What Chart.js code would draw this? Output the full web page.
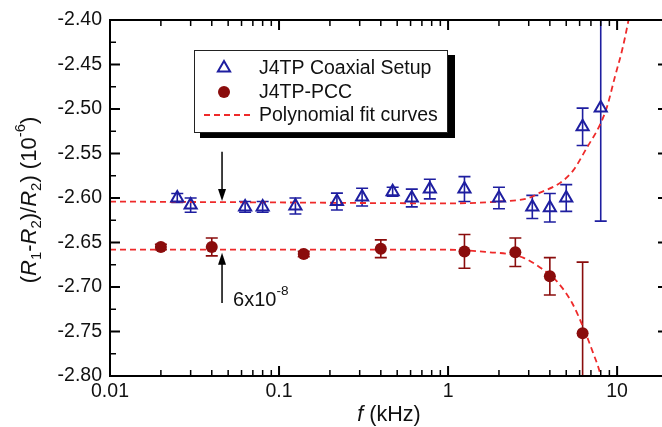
<!DOCTYPE html>
<html>
<head>
<meta charset="utf-8">
<script src="https://cdn.jsdelivr.net/npm/chart.js@4.4.0/dist/chart.umd.min.js"></script>
<style>
html, body { margin: 0; padding: 0; background: #fff; overflow: hidden; }
#wrap { width: 680px; height: 427px; }
</style>
</head>
<body>
<div id="wrap"><canvas id="grafico"></canvas></div>
<script>
// dati (frequenza in kHz, valori in 10^-6)
let coaxF   = [0.025, 0.03, 0.063, 0.08, 0.125, 0.22, 0.31, 0.47, 0.61, 0.78, 1.25, 2.0, 3.15, 4.0, 5.0, 6.25, 8.0];
let coaxY   = [-2.600, -2.608, -2.610, -2.610, -2.609, -2.604, -2.599, -2.593, -2.600, -2.590, -2.590, -2.600, -2.610, -2.611, -2.600, -2.520, -2.499];
let coaxErr = [0.005, 0.008, 0.006, 0.006, 0.009, 0.0095, 0.010, 0.005, 0.010, 0.011, 0.014, 0.012, 0.013, 0.016, 0.015, 0.021, 0.127];

let pccF   = [0.02, 0.04, 0.14, 0.40, 1.25, 2.5, 4.0, 6.25];
let pccY   = [-2.655, -2.655, -2.663, -2.657, -2.660, -2.661, -2.688, -2.752];
let pccErr = [0.003, 0.010, 0.003, 0.010, 0.019, 0.016, 0.021, 0.080];

let fitCoaxF = [0.01, 0.1, 1, 2, 3, 3.5, 4.6, 5.5, 6.6, 7.9, 8.7, 9.7, 10.7, 11.6, 12.2];
let fitCoaxY = [-2.604, -2.605, -2.606, -2.604, -2.600, -2.594, -2.583, -2.569, -2.544, -2.518, -2.498, -2.464, -2.434, -2.403, -2.38];

let fitPccF = [0.01, 0.1, 0.9, 1.3, 1.77, 2.3, 2.78, 3.5, 4.42, 5.42, 6.29, 7.21, 7.93, 8.2];
let fitPccY = [-2.658, -2.658, -2.658, -2.659, -2.661, -2.663, -2.667, -2.678, -2.694, -2.718, -2.745, -2.774, -2.797, -2.81];

let xTickLabels = [0.01, 0.1, 1, 10];
let yTickLabels = [-2.80, -2.75, -2.70, -2.65, -2.60, -2.55, -2.50, -2.45, -2.40];

let legendLabels = ['J4TP Coaxial Setup', 'J4TP-PCC', 'Polynomial fit curves'];

const FONT = '"Liberation Sans", Arial, sans-serif';
const BLU = '#1e1ea0';
const ROSSO = '#8a0c0c';
const FIT = '#ee2a2a';

function punti(xs, ys) {
    let out = [];
    for (var i = 0; i < xs.length; i++) out.push({x: xs[i], y: ys[i]});
    return out;
}

// disegna testo a segmenti (corsivo, pedici, apici)
function testoRicco(ctx, parti, x, y, size, sinistra) {
    let w = 0;
    parti.forEach(p => {
        let s = p.sub || p.sup ? size * 0.68 : size;
        ctx.font = (p.it ? 'italic ' : '') + s + 'px ' + FONT;
        p.w = ctx.measureText(p.t).width;
        p.s = s;
        w += p.w;
    });
    let cx = sinistra ? x : x - w / 2;
    ctx.textBaseline = 'middle';
    ctx.textAlign = 'left';
    parti.forEach(p => {
        ctx.font = (p.it ? 'italic ' : '') + p.s + 'px ' + FONT;
        let dy = p.sub ? size * 0.3 : (p.sup ? -size * 0.42 : 0);
        ctx.fillText(p.t, cx, y + dy);
        cx += p.w;
    });
}

function freccia(ctx, x, y0, y1) {
    let dir = y1 > y0 ? 1 : -1;
    ctx.beginPath();
    ctx.moveTo(x, y0);
    ctx.lineTo(x, y1 - dir * 8);
    ctx.lineWidth = 1.5;
    ctx.stroke();
    ctx.beginPath();
    ctx.moveTo(x, y1);
    ctx.lineTo(x - 4, y1 - dir * 12);
    ctx.lineTo(x + 4, y1 - dir * 12);
    ctx.closePath();
    ctx.fill();
}

const decorazioni = {
    id: 'decorazioni',
    beforeDatasetsDraw(chart) {
        const ctx = chart.ctx, xs = chart.scales.x, ys = chart.scales.y, a = chart.chartArea;
        ctx.save();
        ctx.beginPath();
        ctx.rect(a.left, a.top, a.right - a.left, a.bottom - a.top);
        ctx.clip();
        const barre = [[coaxF, coaxY, coaxErr, BLU], [pccF, pccY, pccErr, ROSSO]];
        barre.forEach(b => {
            ctx.strokeStyle = b[3];
            ctx.lineWidth = 1.6;
            for (var i = 0; i < b[0].length; i++) {
                let px = xs.getPixelForValue(b[0][i]);
                let y1 = ys.getPixelForValue(b[1][i] + b[2][i]);
                let y2 = ys.getPixelForValue(b[1][i] - b[2][i]);
                ctx.beginPath();
                ctx.moveTo(px, y1); ctx.lineTo(px, y2);
                ctx.moveTo(px - 6, y1); ctx.lineTo(px + 6, y1);
                ctx.moveTo(px - 6, y2); ctx.lineTo(px + 6, y2);
                ctx.stroke();
            }
        });
        ctx.restore();
    },
    afterDraw(chart) {
        const ctx = chart.ctx, xs = chart.scales.x, ys = chart.scales.y, a = chart.chartArea;
        ctx.save();
        // cornice
        ctx.strokeStyle = '#000';
        ctx.lineWidth = 2;
        ctx.strokeRect(a.left, a.top, a.right - a.left, a.bottom - a.top);
        // tacche y
        for (var i = 0; i < yTickLabels.length; i++) {
            let py = ys.getPixelForValue(yTickLabels[i]);
            ctx.lineWidth = 2;
            ctx.beginPath();
            ctx.moveTo(a.left, py); ctx.lineTo(a.left + 10, py);
            ctx.moveTo(a.right, py); ctx.lineTo(a.right - 10, py);
            ctx.stroke();
            if (i < yTickLabels.length - 1) {
                let pm = ys.getPixelForValue((yTickLabels[i] + yTickLabels[i + 1]) / 2);
                ctx.lineWidth = 1.5;
                ctx.beginPath();
                ctx.moveTo(a.left, pm); ctx.lineTo(a.left + 6, pm);
                ctx.moveTo(a.right, pm); ctx.lineTo(a.right - 6, pm);
                ctx.stroke();
            }
        }
        // tacche x
        xTickLabels.forEach(d => {
            let px = xs.getPixelForValue(d);
            ctx.lineWidth = 2;
            ctx.beginPath();
            ctx.moveTo(px, a.bottom); ctx.lineTo(px, a.bottom - 10);
            ctx.moveTo(px, a.top); ctx.lineTo(px, a.top + 10);
            ctx.stroke();
            ctx.lineWidth = 1.5;
            for (var k = 2; k <= 9; k++) {
                if (d * k > xs.max) break;
                let pm = xs.getPixelForValue(d * k);
                ctx.beginPath();
                ctx.moveTo(pm, a.bottom); ctx.lineTo(pm, a.bottom - 6);
                ctx.moveTo(pm, a.top); ctx.lineTo(pm, a.top + 6);
                ctx.stroke();
            }
        });

        // legenda
        ctx.fillStyle = '#000';
        ctx.fillRect(200, 55, 255, 83);
        ctx.fillStyle = '#fff';
        ctx.fillRect(194, 50, 254, 83);
        ctx.strokeStyle = '#222';
        ctx.lineWidth = 1;
        ctx.strokeRect(194.5, 50.5, 253, 82);
        ctx.strokeStyle = BLU;
        ctx.lineWidth = 2;
        ctx.beginPath();
        ctx.moveTo(224, 61); ctx.lineTo(230.1, 71.5); ctx.lineTo(217.9, 71.5); ctx.closePath();
        ctx.stroke();
        ctx.fillStyle = ROSSO;
        ctx.beginPath();
        ctx.arc(224, 92, 6, 0, Math.PI * 2);
        ctx.fill();
        ctx.strokeStyle = FIT;
        ctx.lineWidth = 1.8;
        ctx.setLineDash([6, 4]);
        ctx.beginPath();
        ctx.moveTo(204, 115); ctx.lineTo(250, 115);
        ctx.stroke();
        ctx.setLineDash([]);
        ctx.fillStyle = '#111';
        ctx.font = '19.5px ' + FONT;
        ctx.textAlign = 'left';
        ctx.textBaseline = 'middle';
        ctx.fillText(legendLabels[0], 259, 69);
        ctx.fillText(legendLabels[1], 259, 93);
        ctx.fillText(legendLabels[2], 259, 116);

        // frecce e annotazione
        ctx.strokeStyle = '#000';
        ctx.fillStyle = '#000';
        let fx = xs.getPixelForValue(0.046);
        freccia(ctx, fx, ys.getPixelForValue(-2.548), ys.getPixelForValue(-2.6035));
        freccia(ctx, fx, ys.getPixelForValue(-2.718), ys.getPixelForValue(-2.6615));
        ctx.fillStyle = '#111';
        testoRicco(ctx, [{t: '6x10'}, {t: '-8', sup: true}], fx + 11, 300, 20, true);

        // titoli assi
        ctx.fillStyle = '#111';
        testoRicco(ctx, [{t: 'f', it: true}, {t: ' (kHz)'}], (a.left + a.right) / 2, 415, 21.5);
        ctx.translate(30, 200);
        ctx.rotate(-Math.PI / 2);
        testoRicco(ctx, [
            {t: '('}, {t: 'R', it: true}, {t: '1', sub: true}, {t: '-'},
            {t: 'R', it: true}, {t: '2', sub: true}, {t: ')/'},
            {t: 'R', it: true}, {t: '2', sub: true}, {t: ') (10'},
            {t: '-6', sup: true}, {t: ')'}
        ], 0, 0, 22);
        ctx.restore();
    }
};

var ctx = document.getElementById('grafico');
var grafico = new Chart(ctx, {
    type: 'scatter',
    data: {
        datasets: [{
            label: legendLabels[0],
            data: punti(coaxF, coaxY),
            pointStyle: 'triangle',
            radius: 7,
            borderColor: BLU,
            backgroundColor: 'rgba(255,255,255,0)',
            borderWidth: 2
        }, {
            label: legendLabels[1],
            data: punti(pccF, pccY),
            pointStyle: 'circle',
            radius: 6,
            borderColor: ROSSO,
            backgroundColor: ROSSO,
            borderWidth: 0
        }, {
            label: legendLabels[2],
            data: punti(fitCoaxF, fitCoaxY),
            showLine: true,
            pointRadius: 0,
            borderColor: FIT,
            borderWidth: 1.8,
            borderDash: [6, 4],
            cubicInterpolationMode: 'monotone'
        }, {
            label: 'fit PCC',
            data: punti(fitPccF, fitPccY),
            showLine: true,
            pointRadius: 0,
            borderColor: FIT,
            borderWidth: 1.8,
            borderDash: [6, 4],
            cubicInterpolationMode: 'monotone'
        }]
    },
    options: {
        responsive: true,
        maintainAspectRatio: false,
        animation: false,
        layout: { padding: { top: 20, right: 12, left: 0, bottom: 0 } },
        plugins: { legend: { display: false }, tooltip: { enabled: false } },
        scales: {
            x: {
                type: 'logarithmic',
                min: 0.01,
                max: 20,
                grid: { display: false, drawTicks: false },
                border: { display: false },
                afterBuildTicks: s => { s.ticks = xTickLabels.map(v => ({value: v})); },
                afterFit: s => { s.height = 51; },
                ticks: {
                    font: { family: FONT, size: 19.5 },
                    color: '#111',
                    padding: 4,
                    maxRotation: 0,
                    autoSkip: false,
                    callback: v => String(v)
                }
            },
            y: {
                min: -2.8,
                max: -2.4,
                grid: { display: false, drawTicks: false },
                border: { display: false },
                afterBuildTicks: s => { s.ticks = yTickLabels.map(v => ({value: v})); },
                afterFit: s => { s.width = 110; },
                ticks: {
                    font: { family: FONT, size: 19.5 },
                    color: '#111',
                    padding: 8,
                    callback: v => v.toFixed(2)
                }
            }
        }
    },
    plugins: [decorazioni]
});
</script>
</body>
</html>
